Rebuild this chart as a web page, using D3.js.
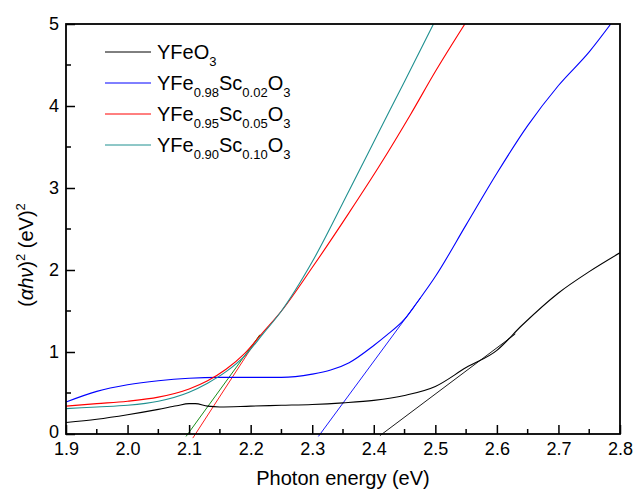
<!DOCTYPE html>
<meta charset="utf-8">
<script src="https://cdn.jsdelivr.net/npm/d3@7"></script>
<style>
body { margin: 0; background: #fff; }
text { font-family: Arial, "Liberation Sans", sans-serif; fill: #000; }
.curve { fill: none; stroke-width: 1.1px; }
</style>
<body>
<script>

// spectra
var eBlack = [1.90,1.95,2.00,2.05,2.08,2.10,2.11,2.13,2.15,2.20,2.25,2.30,2.35,2.40,2.45,2.50,2.55,2.60,2.64,2.70,2.75,2.80];
var vBlack = [0.14,0.18,0.235,0.30,0.345,0.37,0.37,0.34,0.33,0.34,0.35,0.36,0.38,0.41,0.47,0.58,0.81,1.02,1.32,1.72,1.98,2.21];

var eBlue = [1.90,1.95,2.00,2.05,2.10,2.15,2.20,2.25,2.30,2.33,2.36,2.40,2.42,2.45,2.47,2.50,2.55,2.60,2.65,2.70,2.75,2.785];
var vBlue = [0.39,0.52,0.60,0.65,0.68,0.69,0.69,0.69,0.73,0.78,0.87,1.08,1.20,1.40,1.60,1.92,2.55,3.18,3.76,4.25,4.66,5.0];

var eRed = [1.90,1.95,2.00,2.05,2.10,2.13,2.16,2.19,2.22,2.25,2.30,2.36,2.41,2.46,2.50,2.548];
var vRed = [0.34,0.37,0.40,0.45,0.55,0.65,0.79,0.98,1.24,1.50,2.03,2.70,3.28,3.90,4.42,5.0];

var eCyan = [1.90,1.95,2.00,2.05,2.10,2.13,2.16,2.19,2.22,2.25,2.30,2.36,2.41,2.45,2.497];
var vCyan = [0.31,0.33,0.35,0.40,0.51,0.62,0.76,0.95,1.22,1.50,2.10,2.97,3.71,4.30,5.0];

// linear fits (start / end points)
var fitBlack = [[2.41, -0.02], [2.63, 1.22]];
var fitBlue  = [[2.31, -0.03], [2.476, 1.66]];
var fitRed   = [[2.106, -0.05], [2.215, 1.21]];
var fitGreen = [[2.095, -0.03], [2.215, 1.21]];

var xTicks = [1.9,2.0,2.1,2.2,2.3,2.4,2.5,2.6,2.7,2.8];
var yTicks = [0,1,2,3,4,5];

var width = 634, height = 492;
var margin = {left: 66, right: 14, top: 24, bottom: 58};

var svg = d3.select("body").append("svg")
    .attr("width", width)
    .attr("height", height);

var x = d3.scaleLinear().domain([1.9, 2.8]).range([margin.left, width - margin.right]);
var y = d3.scaleLinear().domain([0, 5]).range([height - margin.bottom, margin.top]);

svg.append("clipPath").attr("id", "clip")
  .append("rect")
    .attr("x", margin.left).attr("y", margin.top)
    .attr("width", x.range()[1] - margin.left)
    .attr("height", y(0) - margin.top + 8);

var line = d3.line()
    .x(function(d) { return x(d[0]); })
    .y(function(d) { return y(d[1]); })
    .curve(d3.curveMonotoneX);

function zip(a, b) { return a.map(function(v, i) { return [v, b[i]]; }); }

var series = [
  {data: zip(eBlack, vBlack), color: "#000000"},
  {data: zip(eBlue, vBlue), color: "#0000ff"},
  {data: zip(eRed, vRed), color: "#ff0000"},
  {data: zip(eCyan, vCyan), color: "#1f9090"}
];
var fits = [
  {data: fitBlack, color: "#000000"},
  {data: fitBlue, color: "#0000ff"},
  {data: fitRed, color: "#ff0000"},
  {data: fitGreen, color: "#008000"}
];

var g = svg.append("g").attr("clip-path", "url(#clip)");

g.selectAll(".fit").data(fits).enter().append("path")
    .attr("class", "curve fit")
    .attr("d", function(d) { return d3.line().x(function(p) { return x(p[0]); }).y(function(p) { return y(p[1]); })(d.data); })
    .style("stroke", function(d) { return d.color; })
    .style("stroke-width", "0.9px");

g.selectAll(".spec").data(series).enter().append("path")
    .attr("class", "curve spec")
    .attr("d", function(d) { return line(d.data); })
    .style("stroke", function(d) { return d.color; });

// frame
svg.append("rect")
    .attr("x", margin.left).attr("y", margin.top)
    .attr("width", x.range()[1] - margin.left)
    .attr("height", y(0) - margin.top)
    .attr("fill", "none").attr("stroke", "#000").attr("stroke-width", 1.8);

// x axis: inward ticks
var xAxis = d3.axisBottom(x).tickValues(xTicks).tickFormat(d3.format(".1f")).tickSizeInner(-9).tickSizeOuter(0).tickPadding(8);
var gx = svg.append("g").attr("transform", "translate(0," + y(0) + ")").call(xAxis);
gx.select(".domain").remove();
gx.selectAll("line").attr("stroke-width", 1.5);
gx.selectAll("text").style("font-size", "18px").style("font-family", "Arial, 'Liberation Sans', sans-serif");

var xMinor = d3.range(1.95, 2.8, 0.1);
gx.selectAll(".minor").data(xMinor).enter().append("line")
    .attr("x1", function(d) { return x(d); }).attr("x2", function(d) { return x(d); })
    .attr("y1", 0).attr("y2", -5)
    .attr("stroke", "#000").attr("stroke-width", 1.5);

var yAxis = d3.axisLeft(y).tickValues(yTicks).tickFormat(d3.format("d")).tickSizeInner(-9).tickSizeOuter(0).tickPadding(7);
var gy = svg.append("g").attr("transform", "translate(" + margin.left + ",0)").call(yAxis);
gy.select(".domain").remove();
gy.selectAll("line").attr("stroke-width", 1.5);
gy.selectAll("text").style("font-size", "18px").style("font-family", "Arial, 'Liberation Sans', sans-serif");
// the "0" sits just above the "1.9" label, as in the original
gy.selectAll(".tick").filter(function(d) { return d === 0; }).select("text").attr("dy", "0.2em");

var yMinor = d3.range(0.5, 5, 1);
gy.selectAll(".minor").data(yMinor).enter().append("line")
    .attr("y1", function(d) { return y(d); }).attr("y2", function(d) { return y(d); })
    .attr("x1", 0).attr("x2", 5)
    .attr("stroke", "#000").attr("stroke-width", 1.5);

// axis titles
svg.append("text")
    .attr("x", (margin.left + x.range()[1]) / 2)
    .attr("y", 485)
    .attr("text-anchor", "middle")
    .style("font-size", "20px")
    .text("Photon energy (eV)");

var yt = svg.append("text")
    .attr("transform", "translate(33,255) rotate(-90)")
    .attr("text-anchor", "middle")
    .style("font-size", "20px");
yt.append("tspan").text("(");
yt.append("tspan").style("font-style", "italic").text("αhν");
yt.append("tspan").text(")");
yt.append("tspan").attr("dy", -8).style("font-size", "13px").text("2");
yt.append("tspan").attr("dy", 8).text(" (eV)");
yt.append("tspan").attr("dy", -8).style("font-size", "13px").text("2");

// legend
var legendNames = [
  [["YFeO", 0], ["3", 1]],
  [["YFe", 0], ["0.98", 1], ["Sc", 0], ["0.02", 1], ["O", 0], ["3", 1]],
  [["YFe", 0], ["0.95", 1], ["Sc", 0], ["0.05", 1], ["O", 0], ["3", 1]],
  [["YFe", 0], ["0.90", 1], ["Sc", 0], ["0.10", 1], ["O", 0], ["3", 1]]
];
var legendColors = ["#000000", "#0000ff", "#ff0000", "#1f9090"];

var lg = svg.append("g");
legendNames.forEach(function(parts, i) {
  var yy = 52 + i * 31;
  lg.append("line")
      .attr("x1", 105).attr("x2", 151).attr("y1", yy).attr("y2", yy)
      .attr("stroke", legendColors[i]).attr("stroke-width", 1);
  var t = lg.append("text").attr("x", 157).attr("y", yy + 7).style("font-size", "20px");
  var prevSub = 0;
  parts.forEach(function(p) {
    var sub = p[1];
    t.append("tspan")
        .attr("dy", sub === prevSub ? 0 : (sub ? 7 : -7))
        .style("font-size", sub ? "13px" : "20px")
        .text(p[0]);
    prevSub = sub;
  });
});

</script>
</body>
</html>
